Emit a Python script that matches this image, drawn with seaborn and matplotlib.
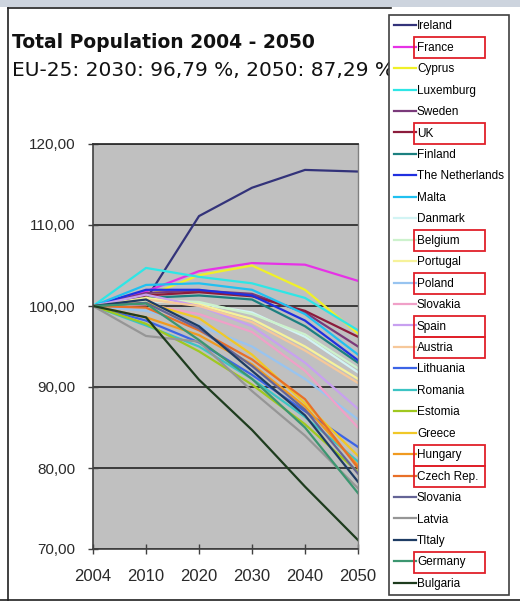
import matplotlib
matplotlib.use("Agg")
import matplotlib.pyplot as plt
from matplotlib.patches import Rectangle
from matplotlib.lines import Line2D
from matplotlib.ticker import FuncFormatter
import seaborn as sns
import pandas as pd

# Population index (2004 = 100) per country
years = ["2004", "2010", "2020", "2030", "2040", "2050"]

countries = [
    "Ireland", "France", "Cyprus", "Luxemburg", "Sweden", "UK", "Finland",
    "The Netherlands", "Malta", "Danmark", "Belgium", "Portugal", "Poland",
    "Slovakia", "Spain", "Austria", "Lithuania", "Romania", "Estomia",
    "Greece", "Hungary", "Czech Rep.", "Slovania", "Latvia", "TItaly",
    "Germany", "Bulgaria",
]

ireland     = [100, 100.8, 111.1, 114.6, 116.8, 116.6]
france      = [100, 101.8, 104.3, 105.3, 105.1, 103.1]
cyprus      = [100, 101.2, 103.8, 105.0, 102.0, 96.6]
luxemburg   = [100, 104.7, 103.6, 102.8, 101.0, 97.0]
sweden      = [100, 101.6, 101.9, 101.5, 99.2, 95.0]
uk          = [100, 101.3, 101.7, 101.2, 99.4, 96.2]
finland     = [100, 101.0, 101.3, 100.8, 97.5, 93.0]
netherlands = [100, 102.0, 102.0, 101.3, 98.2, 93.3]
malta       = [100, 102.6, 102.8, 102.0, 99.0, 94.0]
denmark     = [100, 100.6, 100.3, 99.2, 96.2, 91.8]
belgium     = [100, 100.8, 100.5, 99.0, 96.5, 92.3]
portugal    = [100, 101.0, 100.2, 98.4, 95.0, 91.0]
poland      = [100, 99.4, 97.6, 95.0, 91.0, 86.0]
slovakia    = [100, 100.2, 99.0, 96.8, 92.0, 85.0]
spain       = [100, 101.4, 100.0, 97.5, 93.0, 87.3]
austria     = [100, 100.8, 100.0, 98.0, 94.5, 90.5]
lithuania   = [100, 98.2, 95.5, 91.5, 87.0, 82.6]
romania     = [100, 97.6, 95.0, 91.0, 86.3, 80.8]
estonia     = [100, 97.8, 94.4, 90.3, 85.4, 79.5]
greece      = [100, 100.4, 98.5, 94.0, 88.0, 81.5]
hungary     = [100, 98.6, 96.4, 92.8, 87.6, 80.3]
czech       = [100, 99.8, 97.0, 93.4, 88.5, 80.0]
slovenia    = [100, 100.4, 97.2, 92.6, 87.2, 79.3]
latvia      = [100, 96.3, 95.6, 89.5, 84.0, 77.5]
italy       = [100, 100.8, 97.5, 92.0, 86.5, 78.3]
germany     = [100, 100.3, 95.8, 91.0, 85.0, 76.9]
bulgaria    = [100, 98.6, 90.9, 84.7, 77.7, 71.1]

series = [
    ireland, france, cyprus, luxemburg, sweden, uk, finland, netherlands,
    malta, denmark, belgium, portugal, poland, slovakia, spain, austria,
    lithuania, romania, estonia, greece, hungary, czech, slovenia, latvia,
    italy, germany, bulgaria,
]

highlighted = ["France", "UK", "Belgium", "Poland", "Spain", "Austria",
               "Hungary", "Czech Rep.", "Germany"]

title = "Total Population 2004 - 2050"
subtitle = "EU-25: 2030: 96,79 %, 2050: 87,29 %"

colors = [
    "#33337a", "#e632e6", "#f0f028", "#2ee6e6", "#7a3a7a", "#8c1c3c",
    "#1c8080", "#2030e0", "#20c0f0", "#d2f4f4", "#cdf2cd", "#f6f29a",
    "#98c4f0", "#f0a0c8", "#c8a0f0", "#f6c89a", "#3c64e6", "#3cc4c4",
    "#a0c820", "#f0c828", "#f09a20", "#e87028", "#646496", "#969696",
    "#1e3c64", "#3c9670", "#1e3c1e",
]

rows = []
for name, vals in zip(countries, series):
    for yr, v in zip(years, vals):
        rows.append({"country": name, "year": yr, "value": v})
df = pd.DataFrame(rows)

plt.rcParams["font.family"] = ["Liberation Sans", "DejaVu Sans"]

W, H = 520, 603
fig = plt.figure(figsize=(W / 100, H / 100), dpi=100)
fig.patch.set_facecolor("white")

ax = fig.add_axes([93 / W, 1 - 549 / H, (358 - 93) / W, (549 - 144) / H])
ax.set_facecolor("#c0c0c0")
ax.set_axisbelow(True)

sns.lineplot(
    data=df, x="year", y="value", hue="country", hue_order=countries,
    palette=colors, linewidth=1.6, legend=False, sort=False,
    estimator=None, ax=ax,
)

ax.set_xlim(0, len(years) - 1)
ax.set_ylim(70, 120)
ax.set_yticks([70, 80, 90, 100, 110, 120])
ax.yaxis.set_major_formatter(FuncFormatter(lambda v, p: f"{v:.2f}".replace(".", ",")))
ax.yaxis.grid(True, color="#303030", linewidth=1.3)
ax.xaxis.grid(False)
ax.set_xlabel("")
ax.set_ylabel("")

for side in ["left", "bottom"]:
    ax.spines[side].set_color("#404040")
    ax.spines[side].set_linewidth(1.2)
ax.spines["right"].set_color("#808080")
ax.spines["right"].set_linewidth(1.0)
ax.spines["top"].set_color("#303030")
ax.spines["top"].set_linewidth(1.3)

ax.tick_params(axis="y", direction="inout", length=7, width=1.0,
               color="#404040", pad=9, labelsize=11, labelcolor="#2a2a2a")
ax.tick_params(axis="x", direction="inout", length=7, width=1.0,
               color="#404040", pad=11, labelsize=12, labelcolor="#2a2a2a")

# Titles
fig.text(12 / W, 1 - 42 / H, title, fontsize=13.5, fontweight="bold",
         family="DejaVu Sans", va="center", ha="left", color="#111111")
fig.text(12 / W, 1 - 71 / H, subtitle, fontsize=14.5, family="DejaVu Sans",
         va="center", ha="left", color="#111111")

# Chart frame and top strip
fig.add_artist(Rectangle((0, 1 - 7 / H), 1, 7 / H, transform=fig.transFigure,
                         facecolor="#cdd4de", edgecolor="none", zorder=0))
fig.add_artist(Line2D([8 / W, 8 / W], [1 - 8 / H, 1 - 600 / H],
                      transform=fig.transFigure, color="#202020", lw=1.2))
fig.add_artist(Line2D([8 / W, 391 / W], [1 - 8 / H, 1 - 8 / H],
                      transform=fig.transFigure, color="#202020", lw=1.2))
fig.add_artist(Line2D([0, 1], [1 - 600 / H, 1 - 600 / H],
                      transform=fig.transFigure, color="#202020", lw=1.2))

# Legend
handles = ax.get_lines()[:len(countries)]
leg = fig.legend(
    handles, countries, loc="upper left",
    bbox_to_anchor=(389 / W, 1 - 15 / H), bbox_transform=fig.transFigure,
    frameon=True, fancybox=False, edgecolor="#404040", facecolor="white",
    framealpha=1, fontsize=8.5, handlelength=1.8, handletextpad=0.12,
    labelspacing=0.8, borderpad=0.45, borderaxespad=0,
)
leg.get_frame().set_linewidth(1.2)
leg.set_zorder(10)

# Red boxes around selected legend entries
fig.canvas.draw()
renderer = fig.canvas.get_renderer()
for txt in leg.get_texts():
    if txt.get_text() in highlighted:
        bb = txt.get_window_extent(renderer)
        yc = (bb.y0 + bb.y1) / 2
        x0 = 414
        rect = Rectangle((x0 / W, (yc - 10.5) / H), (485 - x0) / W, 21 / H,
                         transform=fig.transFigure, fill=False,
                         edgecolor="#e0202a", linewidth=1.3, zorder=11)
        fig.add_artist(rect)

fig.savefig("out.png", dpi=100)
